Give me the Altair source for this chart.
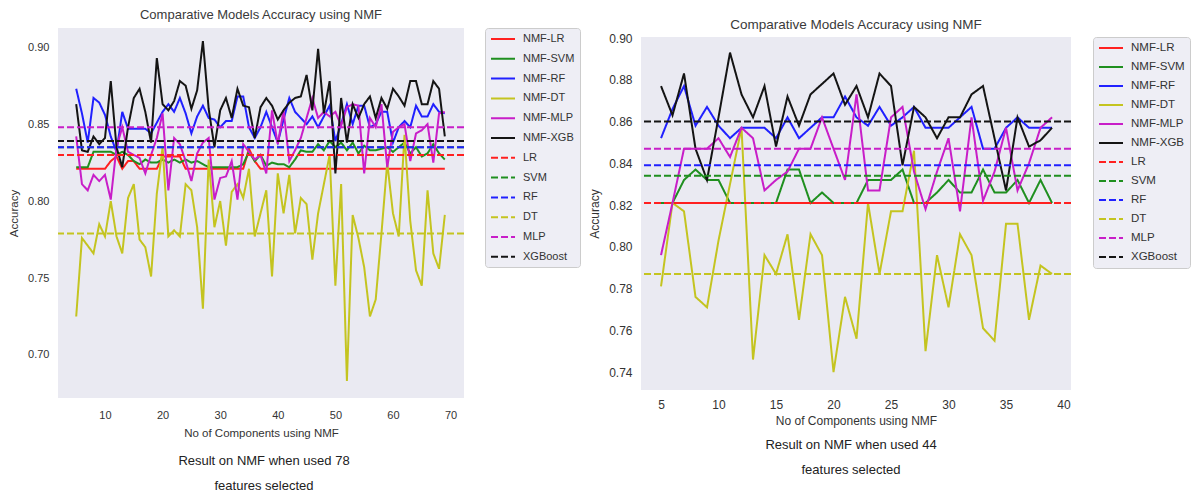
import altair as alt
import pandas as pd

FONT = "Liberation Sans"
TEXT = "#333333"
BG = "#eaeaf2"

SERIES = ["NMF-LR", "NMF-SVM", "NMF-RF", "NMF-DT", "NMF-MLP", "NMF-XGB"]
BASELINES = ["LR", "SVM", "RF", "DT", "MLP", "XGBoost"]
LEGEND_ORDER = SERIES + BASELINES
COLORS = ["#ff2020", "#1f8f1f", "#2020ff", "#c4c420", "#c81ec8", "#141414"]
SOLID = [1, 0]
DASHED = [7, 3]

TITLE = "Comparative Models Accuracy using NMF"
X_TITLE = "No of Components using NMF"
Y_TITLE = "Accuracy"
CAPTION_L = ["Result on NMF when used 78", "features selected"]
CAPTION_R = ["Result on NMF when used 44", "features selected"]

# ---------------- left panel (78 features) ----------------
L_K = list(range(5, 70))
L_LR = [0.821, 0.821, 0.821, 0.821, 0.821, 0.821, 0.826, 0.829, 0.821, 0.826,
        0.826, 0.821, 0.821, 0.821, 0.821, 0.829, 0.829, 0.829, 0.829, 0.821,
        0.821, 0.821, 0.821, 0.821, 0.821, 0.821, 0.821, 0.821, 0.821, 0.821,
        0.834, 0.826, 0.821, 0.821, 0.821, 0.821, 0.821, 0.821, 0.821, 0.821,
        0.821, 0.821, 0.821, 0.821, 0.821, 0.821, 0.821, 0.821, 0.821, 0.821,
        0.821, 0.821, 0.821, 0.821, 0.821, 0.821, 0.821, 0.821, 0.821, 0.821,
        0.821, 0.821, 0.821, 0.821, 0.821]
L_SVM = [0.822, 0.822, 0.822, 0.832, 0.832, 0.832, 0.832, 0.830, 0.832, 0.830,
         0.826, 0.824, 0.827, 0.825, 0.825, 0.827, 0.825, 0.827, 0.825, 0.827,
         0.825, 0.826, 0.824, 0.822, 0.822, 0.822, 0.822, 0.822, 0.822, 0.824,
         0.832, 0.826, 0.830, 0.823, 0.825, 0.824, 0.824, 0.822, 0.827, 0.833,
         0.832, 0.832, 0.837, 0.833, 0.839, 0.835, 0.838, 0.833, 0.838, 0.831,
         0.836, 0.833, 0.833, 0.834, 0.835, 0.832, 0.835, 0.838, 0.831, 0.835,
         0.829, 0.831, 0.837, 0.831, 0.827]
L_RF = [0.873, 0.857, 0.838, 0.867, 0.864, 0.856, 0.842, 0.832, 0.858, 0.847,
        0.847, 0.847, 0.847, 0.844, 0.851, 0.858, 0.863, 0.858, 0.867, 0.857,
        0.844, 0.855, 0.862, 0.854, 0.853, 0.848, 0.852, 0.852, 0.868, 0.868,
        0.848, 0.841, 0.848, 0.858, 0.848, 0.838, 0.853, 0.867, 0.858, 0.854,
        0.850, 0.855, 0.848, 0.855, 0.862, 0.839, 0.850, 0.863, 0.850, 0.862,
        0.862, 0.848, 0.850, 0.858, 0.858, 0.838, 0.848, 0.852, 0.848, 0.862,
        0.855, 0.855, 0.863, 0.858, 0.857]
L_DT = [0.725, 0.776, 0.771, 0.766, 0.785, 0.777, 0.800, 0.777, 0.766, 0.802,
        0.811, 0.775, 0.770, 0.751, 0.805, 0.835, 0.777, 0.781, 0.777, 0.811,
        0.807, 0.783, 0.730, 0.827, 0.783, 0.800, 0.771, 0.806, 0.811, 0.802,
        0.821, 0.777, 0.792, 0.807, 0.751, 0.818, 0.792, 0.817, 0.779, 0.802,
        0.798, 0.762, 0.792, 0.811, 0.830, 0.745, 0.811, 0.683, 0.791, 0.776,
        0.757, 0.725, 0.736, 0.779, 0.825, 0.792, 0.777, 0.843, 0.787, 0.755,
        0.745, 0.807, 0.766, 0.756, 0.791]
L_MLP = [0.842, 0.811, 0.807, 0.817, 0.813, 0.817, 0.801, 0.835, 0.848, 0.832,
         0.830, 0.828, 0.818, 0.830, 0.841, 0.857, 0.807, 0.841, 0.837, 0.826,
         0.813, 0.831, 0.838, 0.841, 0.801, 0.815, 0.816, 0.826, 0.801, 0.837,
         0.832, 0.827, 0.830, 0.818, 0.859, 0.837, 0.859, 0.826, 0.833, 0.841,
         0.854, 0.867, 0.854, 0.858, 0.855, 0.858, 0.849, 0.861, 0.863, 0.862,
         0.818, 0.854, 0.848, 0.863, 0.822, 0.845, 0.848, 0.850, 0.826, 0.844,
         0.846, 0.850, 0.825, 0.857, 0.858]
L_XGB = [0.863, 0.833, 0.832, 0.842, 0.837, 0.841, 0.878, 0.835, 0.822, 0.848,
         0.867, 0.873, 0.858, 0.838, 0.893, 0.863, 0.859, 0.865, 0.878, 0.875,
         0.860, 0.872, 0.904, 0.860, 0.835, 0.859, 0.867, 0.854, 0.873, 0.862,
         0.861, 0.841, 0.861, 0.867, 0.862, 0.853, 0.859, 0.864, 0.867, 0.868,
         0.882, 0.859, 0.899, 0.857, 0.878, 0.818, 0.867, 0.838, 0.863, 0.854,
         0.863, 0.868, 0.854, 0.867, 0.860, 0.873, 0.868, 0.862, 0.878, 0.878,
         0.863, 0.863, 0.878, 0.873, 0.842]
L_BASE = [0.830, 0.835, 0.835, 0.779, 0.848, 0.839]
L_XTICKS = [10, 20, 30, 40, 50, 60, 70]
L_YTICKS = [0.70, 0.75, 0.80, 0.85, 0.90]

# ---------------- right panel (44 features) ----------------
R_K = list(range(5, 40))
R_LR = [0.821, 0.821, 0.821, 0.821, 0.821, 0.821, 0.821, 0.821, 0.821, 0.821,
        0.821, 0.821, 0.821, 0.821, 0.821, 0.821, 0.821, 0.821, 0.821, 0.821,
        0.821, 0.821, 0.821, 0.821, 0.821, 0.821, 0.821, 0.821, 0.821, 0.821,
        0.821, 0.821, 0.821, 0.821, 0.821]
R_SVM = [0.821, 0.821, 0.832, 0.837, 0.832, 0.832, 0.821, 0.821, 0.821, 0.821,
         0.821, 0.837, 0.837, 0.821, 0.826, 0.821, 0.821, 0.821, 0.832, 0.832,
         0.832, 0.837, 0.821, 0.821, 0.826, 0.832, 0.826, 0.826, 0.837, 0.826,
         0.826, 0.832, 0.821, 0.832, 0.821]
R_RF = [0.852, 0.866, 0.877, 0.858, 0.867, 0.858, 0.852, 0.857, 0.857, 0.857,
        0.852, 0.862, 0.852, 0.857, 0.862, 0.862, 0.872, 0.862, 0.858, 0.867,
        0.858, 0.862, 0.867, 0.857, 0.857, 0.857, 0.862, 0.867, 0.847, 0.847,
        0.857, 0.862, 0.857, 0.857, 0.857]
R_DT = [0.781, 0.821, 0.817, 0.776, 0.771, 0.803, 0.830, 0.857, 0.746, 0.796,
        0.787, 0.806, 0.765, 0.806, 0.796, 0.740, 0.776, 0.756, 0.821, 0.787,
        0.817, 0.817, 0.846, 0.750, 0.796, 0.771, 0.806, 0.796, 0.761, 0.755,
        0.811, 0.811, 0.765, 0.791, 0.787]
R_MLP = [0.796, 0.821, 0.847, 0.847, 0.847, 0.852, 0.843, 0.857, 0.852, 0.827,
         0.832, 0.836, 0.847, 0.847, 0.862, 0.847, 0.832, 0.873, 0.827, 0.827,
         0.862, 0.867, 0.836, 0.818, 0.836, 0.852, 0.817, 0.862, 0.822, 0.836,
         0.857, 0.827, 0.840, 0.857, 0.862]
R_XGB = [0.877, 0.863, 0.883, 0.847, 0.832, 0.862, 0.893, 0.873, 0.862, 0.877,
         0.848, 0.872, 0.858, 0.873, 0.878, 0.883, 0.868, 0.877, 0.862, 0.883,
         0.877, 0.839, 0.867, 0.862, 0.852, 0.862, 0.862, 0.873, 0.877, 0.852,
         0.827, 0.862, 0.848, 0.851, 0.857]
R_BASE = [0.821, 0.834, 0.839, 0.787, 0.847, 0.860]
R_XTICKS = [5, 10, 15, 20, 25, 30, 35, 40]
R_YTICKS = [0.74, 0.76, 0.78, 0.80, 0.82, 0.84, 0.86, 0.88, 0.90]


def long_df(ks, lists):
    rows = []
    for name, vals in zip(SERIES, lists):
        for k, v in zip(ks, vals):
            rows.append({"k": k, "acc": v, "series": name})
    return pd.DataFrame(rows)


def panel(ks, lists, base_vals, xdom, xticks, ydom, yticks, w, h,
          caption, cap_x, cap_y, s):
    lines_df = long_df(ks, lists)
    base_df = pd.DataFrame({"series": BASELINES, "acc": base_vals})

    leg = dict(
        title=None, orient="none", legendX=w + s["leg_offset"], legendY=s["leg_y"],
        padding=5,
        symbolType="M-1,0L3.8,0", symbolSize=100, symbolStrokeWidth=2,
        labelFont=FONT, labelFontSize=s["leg_font"], labelColor=TEXT,
        rowPadding=s["leg_row"], labelOffset=s["leg_lab_off"],
        strokeColor="#cccccc", fillColor="#eeeef5", cornerRadius=3,
    )
    color = alt.Color("series:N",
                      scale=alt.Scale(domain=LEGEND_ORDER, range=COLORS + COLORS),
                      legend=alt.Legend(**leg))
    dash = alt.StrokeDash("series:N",
                          scale=alt.Scale(domain=LEGEND_ORDER,
                                          range=[SOLID] * 6 + [DASHED] * 6),
                          legend=alt.Legend(**leg))

    x = alt.X("k:Q", scale=alt.Scale(domain=xdom, nice=False, zero=False),
              axis=alt.Axis(values=xticks, title=X_TITLE, domain=False, ticks=False,
                            grid=False, labelFont=FONT, labelFontSize=s["lab"],
                            labelColor=TEXT, titleFont=FONT,
                            titleFontSize=s["atitle"], titleFontWeight="normal",
                            titleColor=TEXT, labelPadding=s["xlp"],
                            titlePadding=s["xtp"]))
    y = alt.Y("acc:Q", scale=alt.Scale(domain=ydom, nice=False, zero=False),
              axis=alt.Axis(values=yticks, format=".2f", title=Y_TITLE, domain=False,
                            ticks=False, grid=False, labelFont=FONT,
                            labelFontSize=s["lab"], labelColor=TEXT,
                            titleFont=FONT, titleFontSize=s["atitle"],
                            titleFontWeight="normal", titleColor=TEXT,
                            labelPadding=s["ylp"], titlePadding=s["ytp"],
                            titleY=s["ty"]))

    one = pd.DataFrame({"c": [0]})
    bg = alt.Chart(one).mark_rect(color=BG).encode(
        x=alt.value(0), x2=alt.value(w), y=alt.value(s["bg_top"]), y2=alt.value(h))
    lines = alt.Chart(lines_df).mark_line(strokeWidth=2).encode(
        x=x, y=y, color=color, strokeDash=dash, detail="series:N")
    rules = alt.Chart(base_df).mark_rule(strokeWidth=2).encode(
        y="acc:Q", color=color, strokeDash=dash)
    cap = alt.Chart(one).mark_text(
        text=caption, lineHeight=25, fontSize=13, font=FONT, color="#222222",
        align="center", baseline="top").encode(
        x=alt.value(cap_x), y=alt.value(cap_y))

    return alt.layer(bg, lines, rules, cap).properties(
        width=w, height=h,
        view=alt.ViewBackground(fill="transparent", stroke="transparent"),
        title=alt.TitleParams(text=TITLE, fontSize=s["tsize"], font=FONT,
                              fontWeight="normal", color="#3a3a3a",
                              offset=6, dy=s["tdy"]))


left = panel(L_K, [L_LR, L_SVM, L_RF, L_DT, L_MLP, L_XGB], L_BASE,
             [1.84, 72.33], L_XTICKS, [0.672, 0.9125], L_YTICKS, 406, 370,
             CAPTION_L, 206, 427,
             dict(leg_offset=21, leg_y=0, leg_font=11, leg_row=8.8, leg_lab_off=21,
                  lab=11, atitle=11.5, xlp=11, xtp=7, ylp=9, ytp=8, ty=185,
                  tsize=13, tdy=0, bg_top=0))
right = panel(R_K, [R_LR, R_SVM, R_RF, R_DT, R_MLP, R_XGB], R_BASE,
              [3.26, 40.65], R_XTICKS, [0.7314, 0.9048], R_YTICKS, 430, 362,
              CAPTION_R, 210, 411,
              dict(leg_offset=22, leg_y=9, leg_font=11.5, leg_row=7.0, leg_lab_off=21,
                   lab=12, atitle=12, xlp=9, xtp=5, ylp=9, ytp=7, ty=185.5,
                   tsize=13.5, tdy=9, bg_top=9))

chart = alt.hconcat(left, right, spacing=7).resolve_scale(
    color="independent", strokeDash="independent"
).properties(padding=0, background="white").configure_view(
    fill="transparent", stroke="transparent")

chart.save("out.html", embed_options={"renderer": "svg", "actions": False})
